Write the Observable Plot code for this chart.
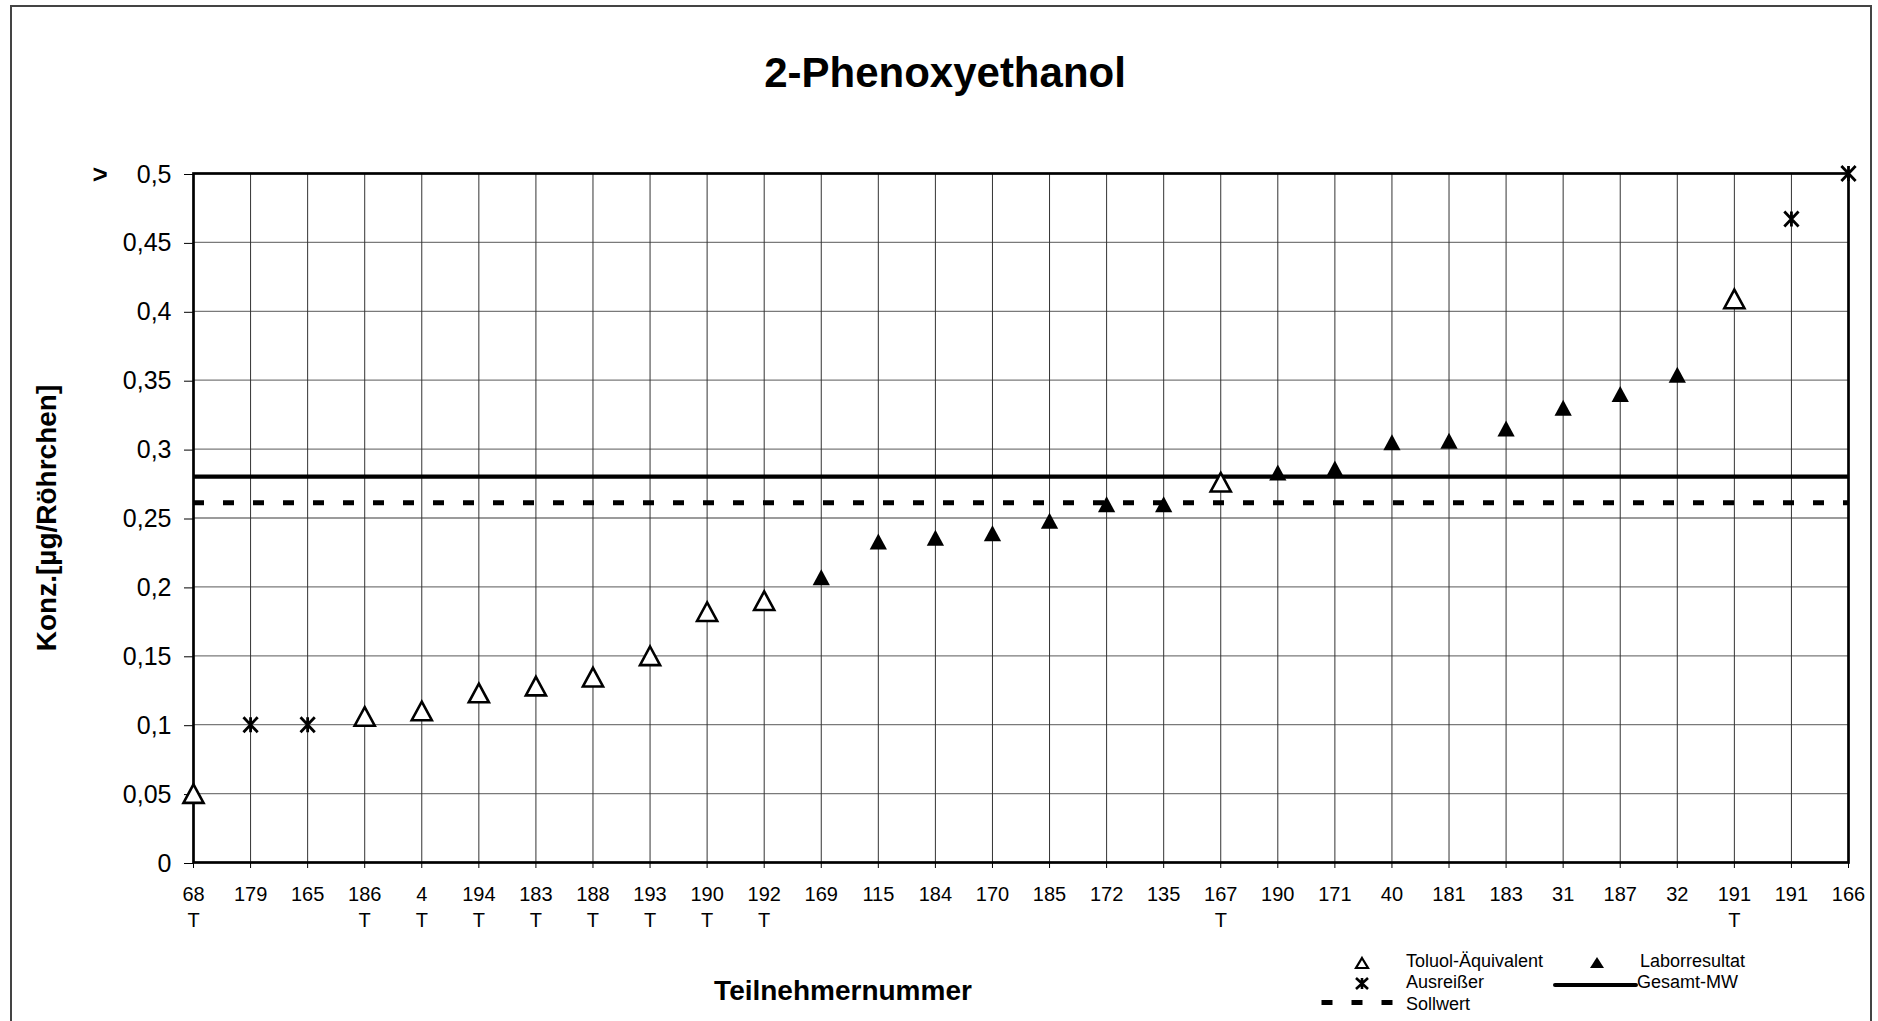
<!DOCTYPE html>
<html>
<head>
<meta charset="utf-8">
<script src="https://cdn.jsdelivr.net/npm/d3@7"></script>
<script src="https://cdn.jsdelivr.net/npm/@observablehq/plot@0.6"></script>
<style>
  html, body { margin: 0; padding: 0; background: #fff; overflow: hidden; }
  #wrap { position: relative; width: 1878px; height: 1021px; font-family: "Liberation Sans", Arial, sans-serif; }
  #frame { position: absolute; left: 10px; top: 5px; width: 1862px; height: 1040px; border: 2px solid #444; box-sizing: border-box; }
  #chart, #overlay { position: absolute; left: 0; top: 0; }
  #overlay { pointer-events: none; }
</style>
</head>
<body>
<div id="wrap">
  <div id="frame"></div>
  <div id="chart"></div>
  <svg id="overlay" width="1878" height="1021"></svg>
</div>
<script>
// ---- data ----
const categories = ["68","179","165","186","4","194","183","188","193","190","192","169","115","184","170","185","172","135","167","190","171","40","181","183","31","187","32","191","191","166"];
const tLabels    = ["T","","","T","T","T","T","T","T","T","T","","","","","","","","T","","","","","","","","","T","",""];
const values     = [0.05,0.1,0.1,0.106,0.11,0.123,0.128,0.1345,0.15,0.182,0.19,0.207,0.233,0.2356,0.239,0.248,0.26,0.26,0.276,0.283,0.286,0.305,0.306,0.315,0.33,0.34,0.354,0.409,0.467,0.5];
const kinds      = ["toluol","ausreisser","ausreisser","toluol","toluol","toluol","toluol","toluol","toluol","toluol","toluol","labor","labor","labor","labor","labor","labor","labor","toluol","labor","labor","labor","labor","labor","labor","labor","labor","toluol","ausreisser","ausreisser"];
const gesamtMW = 0.28;
const sollwert = 0.261;
const yTicks = [0,0.05,0.1,0.15,0.2,0.25,0.3,0.35,0.4,0.45,0.5];
const title = "2-Phenoxyethanol";
const xTitle = "Teilnehmernummer";
const yTitle = "Konz.[µg/Röhrchen]";
const legendItems = ["Toluol-Äquivalent","Laborresultat","Ausreißer","Gesamt-MW","Sollwert"];

const rows = values.map((v, i) => ({i, v, kind: kinds[i]}));
const idx = d3.range(categories.length);

// ---- custom symbols (centered on bounding box, like spreadsheet markers) ----
const triangleBox = {
  draw(ctx, size) {
    const r = Math.sqrt(size / Math.PI);
    const w = r * 1.08;
    ctx.moveTo(0, -r);
    ctx.lineTo(w, r);
    ctx.lineTo(-w, r);
    ctx.closePath();
  }
};
const starX = {
  draw(ctx, size) {
    const r = Math.sqrt(size / Math.PI);
    const w = r * 0.95;
    ctx.moveTo(-w, -r); ctx.lineTo(w, r);
    ctx.moveTo(w, -r); ctx.lineTo(-w, r);
    ctx.moveTo(0, -r); ctx.lineTo(0, r);
  }
};

const fmtY = d => String(+d.toFixed(2)).replace(".", ",");

const plot = Plot.plot({
  width: 1878,
  height: 1021,
  marginLeft: 193,
  marginRight: 30,
  marginTop: 173,
  marginBottom: 159,
  style: {fontFamily: "'Liberation Sans', Arial, sans-serif", background: "transparent", color: "#000", overflow: "visible"},
  x: {type: "linear", domain: [0, categories.length - 1]},
  y: {domain: [0, 0.5]},
  marks: [
    Plot.ruleY(yTicks.slice(1, -1), {stroke: "#7a7a7a", strokeWidth: 1.3}),
    Plot.ruleX(idx.slice(1, -1), {stroke: "#333", strokeWidth: 1}),
    Plot.ruleY([sollwert], {stroke: "#000", strokeWidth: 5, strokeDasharray: "11,19"}),
    Plot.ruleY([gesamtMW], {stroke: "#000", strokeWidth: 4.3}),
    Plot.frame({stroke: "#000", strokeWidth: 2.7}),
    Plot.axisY({ticks: yTicks, tickFormat: fmtY, tickSize: 9, tickPadding: 13, fontSize: 25, dy: 1, label: null}),
    Plot.axisX({ticks: idx, tickFormat: i => categories[i] + (tLabels[i] ? "\n" + tLabels[i] : ""), tickSize: 6, tickPadding: 14.7, fontSize: 20, lineHeight: 1.27, label: null}),
    Plot.text([yTitle], {text: d => d, frameAnchor: "left", rotate: -90, dx: -146, fontSize: 28, fontWeight: "bold", textAnchor: "middle", lineAnchor: "middle"}),
    Plot.dot(rows.filter(d => d.kind === "labor"), {x: "i", y: "v", symbol: triangleBox, r: 8, fill: "#000", stroke: "none"}),
    Plot.dot(rows.filter(d => d.kind === "toluol"), {x: "i", y: "v", symbol: triangleBox, r: 9.3, fill: "#fff", stroke: "#000", strokeWidth: 2.6, strokeLinejoin: "miter"}),
    Plot.dot(rows.filter(d => d.kind === "ausreisser"), {x: "i", y: "v", symbol: starX, r: 7.5, fill: "none", stroke: "#000", strokeWidth: 2.8})
  ]
});
document.getElementById("chart").appendChild(plot);

// ---- title, x-axis title, ">" marker and legend ----
const ov = d3.select("#overlay").style("font-family", "'Liberation Sans', Arial, sans-serif");
ov.append("text").attr("x", 945).attr("y", 87).attr("text-anchor", "middle")
  .attr("font-size", 42).attr("font-weight", "bold").text(title);
ov.append("text").attr("x", 843).attr("y", 1000).attr("text-anchor", "middle")
  .attr("font-size", 28).attr("font-weight", "bold").text(xTitle);
ov.append("text").attr("x", 100).attr("y", 183).attr("text-anchor", "middle")
  .attr("font-size", 26).attr("font-weight", "bold").text(">");

const lg = ov.append("g").attr("font-size", 18);
// symbols
lg.append("path").attr("d", "M1362,958 L1368,968 L1356,968 Z").attr("fill", "#fff").attr("stroke", "#000").attr("stroke-width", 2.2);
lg.append("path").attr("d", "M1597,957 L1604,968 L1590,968 Z").attr("fill", "#000");
lg.append("path").attr("d", "M1356,978 L1368,989 M1368,978 L1356,989 M1362,978 L1362,989").attr("stroke", "#000").attr("stroke-width", 2.6).attr("fill", "none");
lg.append("line").attr("x1", 1555).attr("x2", 1636).attr("y1", 985).attr("y2", 985).attr("stroke", "#000").attr("stroke-width", 4).attr("stroke-linecap", "round");
lg.append("line").attr("x1", 1321.5).attr("x2", 1393).attr("y1", 1002.5).attr("y2", 1002.5).attr("stroke", "#000").attr("stroke-width", 5).attr("stroke-dasharray", "11,19");
// labels
const lpos = [[1406, 967], [1640, 967], [1406, 988], [1637, 988], [1406, 1010]];
legendItems.forEach((t, k) => lg.append("text").attr("x", lpos[k][0]).attr("y", lpos[k][1]).text(t));
</script>
</body>
</html>
